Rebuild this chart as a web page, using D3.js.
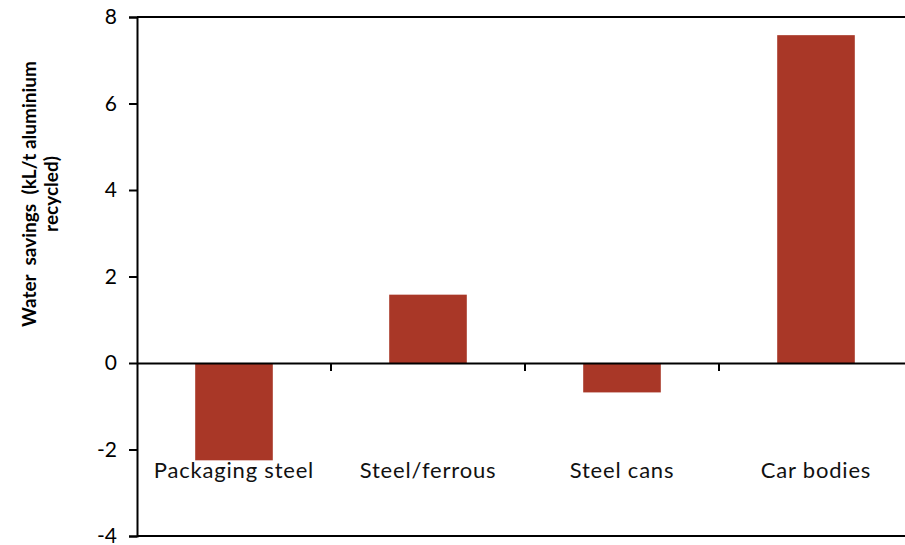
<!DOCTYPE html>
<html>
<head>
<meta charset="utf-8">
<script src="https://cdn.jsdelivr.net/npm/d3@7"></script>
<style>
  body { margin: 0; background: #fff; }
  svg { display: block; font-family: Lato, "Open Sans", sans-serif; }
</style>
</head>
<body>
<svg id="chart" width="905" height="545"></svg>
<script>
// Water savings per tonne of aluminium recycled, by replaced material
const categories = ["Packaging steel", "Steel/ferrous", "Steel cans", "Car bodies"];
const values = [-2.25, 1.58, -0.68, 7.58];
const yTicks = [-4, -2, 0, 2, 4, 6, 8];
const yTitle = ["Water  savings  (kL/t aluminium", "recycled)"];

const svg = d3.select("#chart");
const margin = { left: 137, top: 17, right: -8, bottom: 9 };
const width = 905 - margin.left - margin.right;
const height = 545 - margin.top - margin.bottom;

const g = svg.append("g").attr("transform", `translate(${margin.left},${margin.top})`);

const x = d3.scaleBand().domain(categories).range([0, width]).paddingInner(0.6).paddingOuter(0.3);
const y = d3.scaleLinear().domain([-4, 8]).range([height, 0]);

// Bars
g.selectAll("rect.bar").data(values).join("rect")
  .attr("class", "bar")
  .attr("x", (d, i) => x(categories[i]))
  .attr("width", x.bandwidth())
  .attr("y", d => y(Math.max(0, d)))
  .attr("height", d => Math.abs(y(d) - y(0)))
  .attr("fill", "#A93727");

// Frame lines top and bottom
g.append("line").attr("x1", 0).attr("x2", width).attr("y1", 0).attr("y2", 0)
  .attr("stroke", "#000").attr("stroke-width", 2);
g.append("line").attr("x1", 0).attr("x2", width).attr("y1", height).attr("y2", height)
  .attr("stroke", "#000").attr("stroke-width", 2);

// Y axis
const yAxis = g.append("g")
  .call(d3.axisLeft(y).tickValues(yTicks).tickSize(8).tickPadding(12).tickFormat(d => String(d)));
yAxis.select(".domain").attr("stroke-width", 2);
yAxis.selectAll(".tick line").attr("stroke-width", 2);
yAxis.selectAll("text").attr("font-size", 21).attr("fill", "#000")
  .attr("font-family", "Lato, 'Open Sans', sans-serif");

// Category axis along zero
const xAxis = g.append("g").attr("transform", `translate(0,${y(0)})`)
  .call(d3.axisBottom(x).tickSize(0).tickFormat(""));
xAxis.select(".domain").attr("stroke-width", 2);
// Ticks between categories
const step = x.step();
const boundaries = d3.range(1, categories.length).map(i => x(categories[i]) - x.paddingInner() * step / 2);
xAxis.selectAll("line.sep").data(boundaries).join("line")
  .attr("class", "sep")
  .attr("x1", d => d).attr("x2", d => d)
  .attr("y1", 0).attr("y2", 8)
  .attr("stroke", "#000").attr("stroke-width", 2);

// Category labels placed below the zero line
g.selectAll("text.cat").data(categories).join("text")
  .attr("class", "cat")
  .attr("x", d => x(d) + x.bandwidth() / 2)
  .attr("y", y(-2.5) + 7)
  .attr("text-anchor", "middle")
  .attr("font-size", 22)
  .attr("letter-spacing", 0.8)
  .attr("fill", "#111")
  .text(d => d);

// Y axis title
const title = svg.append("text")
  .attr("transform", `translate(41,194) rotate(-90)`)
  .attr("text-anchor", "middle")
  .attr("font-size", 19)
  .attr("font-weight", "bold")
  .attr("fill", "#000")
  .style("white-space", "pre");
title.selectAll("tspan").data(yTitle).join("tspan")
  .attr("x", 0)
  .attr("dy", (d, i) => i === 0 ? "-0.25em" : "1.15em")
  .text(d => d);
</script>
</body>
</html>
